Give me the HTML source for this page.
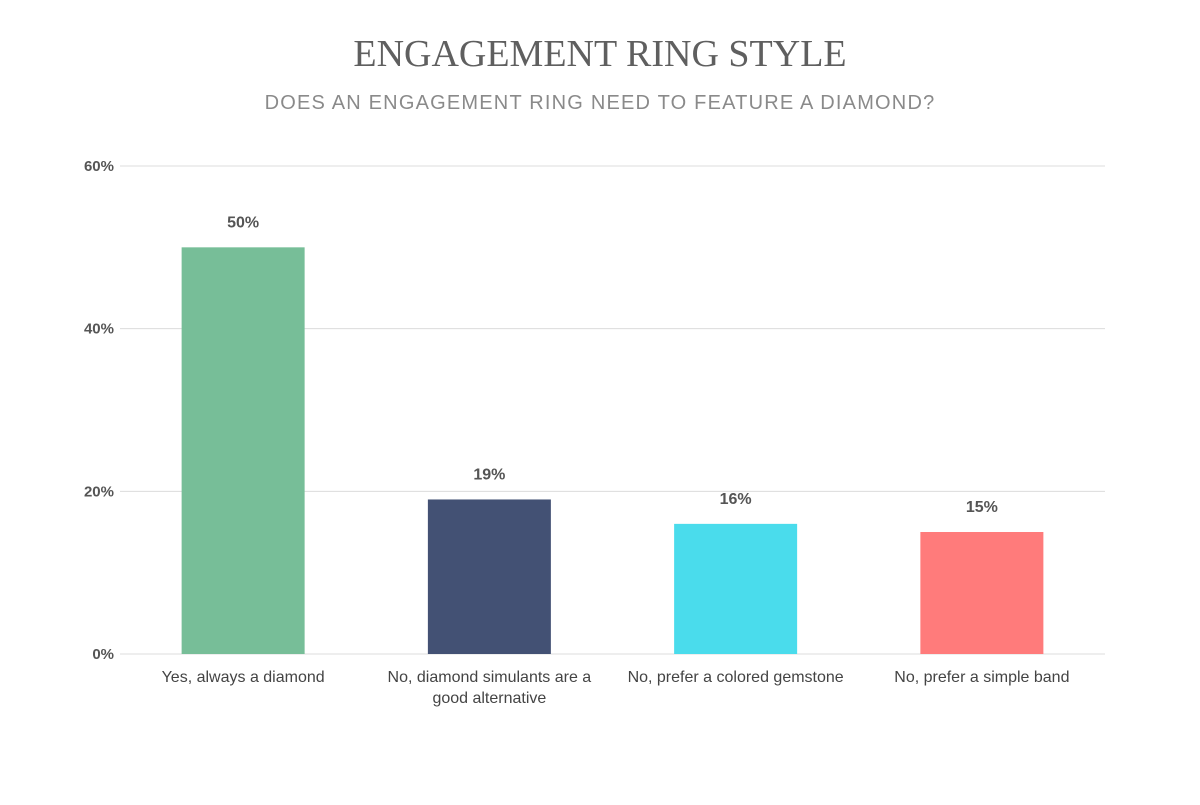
<!DOCTYPE html>
<html><head><meta charset="utf-8"><style>
body{margin:0;background:#fff;width:1200px;height:800px;overflow:hidden;font-family:"Liberation Sans",sans-serif}
</style></head><body>
<svg width="1200" height="800">
<text x="600" y="66" text-anchor="middle" font-family="Liberation Serif" font-size="38" fill="#5f5f5f">ENGAGEMENT RING STYLE</text>
<text x="600" y="109" text-anchor="middle" font-size="20" fill="#8a8a8a" letter-spacing="1.2">DOES AN ENGAGEMENT RING NEED TO FEATURE A DIAMOND?</text>
<g id="grid"></g><g id="bars"></g>
</svg>
<script>
const categories=[["Yes, always a diamond"],["No, diamond simulants are a","good alternative"],["No, prefer a colored gemstone"],["No, prefer a simple band"]];
const values=[50,19,16,15];
const colors=["#77be98","#435174","#4adcec","#ff7b7b"];
const ticks=[0,20,40,60];
const NS="http://www.w3.org/2000/svg";
const x0=120,x1=1105,yBase=654,yTop=166,maxV=60;
const y=v=>yBase-(v/maxV)*(yBase-yTop);
const band=(x1-x0)/categories.length;
const xc=i=>x0+band*(i+0.5);
function mk(t,a,p){const e=document.createElementNS(NS,t);for(const k in a)e.setAttribute(k,a[k]);p.appendChild(e);return e;}
const g=document.getElementById('grid'),b=document.getElementById('bars');
ticks.forEach(t=>{
const l=mk('line',{x1:x0,x2:x1,y1:y(t),y2:y(t),stroke:'#dcdcdc','stroke-width':1},g);


const tx=mk('text',{x:x0-6,y:y(t)+5,'text-anchor':'end','font-size':15,'font-weight':'bold',fill:'#555'},g);
tx.textContent=t+'%';


});
values.forEach((v,i)=>{
const w=123;
const r=mk('rect',{x:xc(i)-w/2,y:y(v),width:w,height:yBase-y(v),fill:colors[i]},b);


const vl=mk('text',{x:xc(i),y:y(v)-20,'text-anchor':'middle','font-size':16,'font-weight':'bold',fill:'#555'},b);
vl.textContent=v+'%';


categories[i].forEach((line,j)=>{
const c=mk('text',{x:xc(i),y:682+j*21,'text-anchor':'middle','font-size':16,fill:'#444'},b);
c.textContent=line;


});
});
</script>
</body></html>
